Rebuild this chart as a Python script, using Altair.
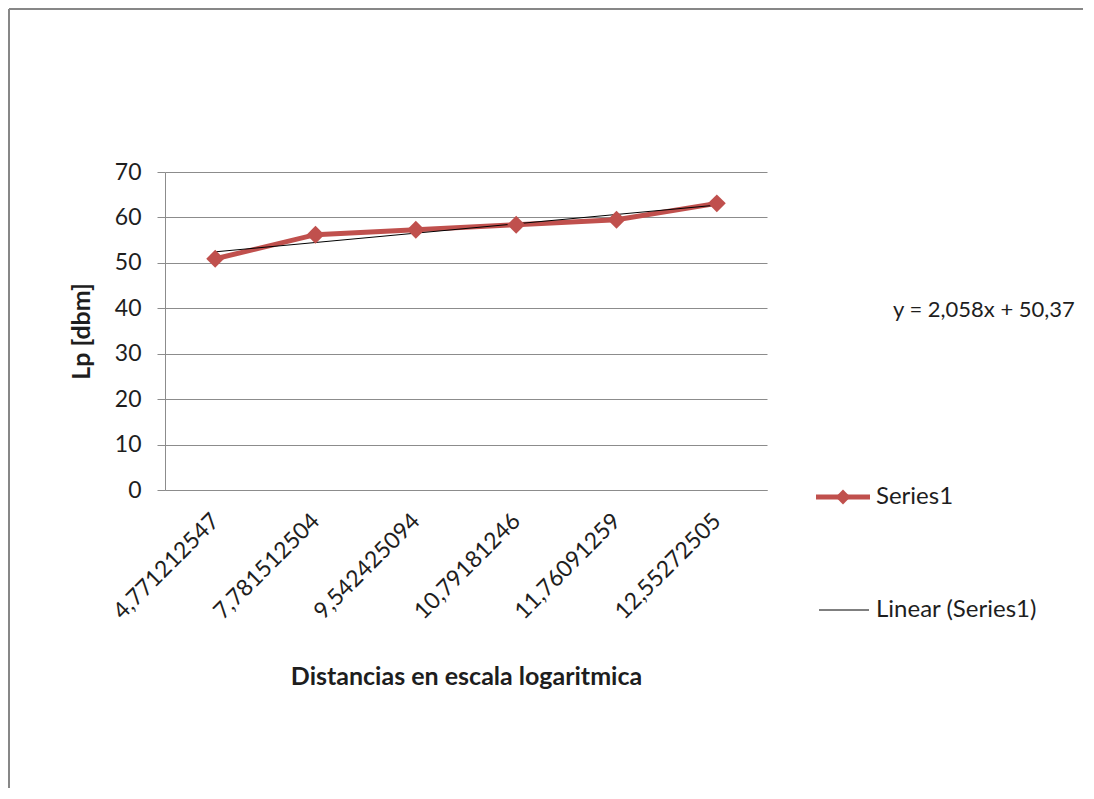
import altair as alt
import pandas as pd

categories = ["4,771212547", "7,781512504", "9,542425094", "10,79181246", "11,76091259", "12,55272505"]
lp_values = [50.9, 56.2, 57.3, 58.4, 59.5, 63.1]
y_ticks = [0, 10, 20, 30, 40, 50, 60, 70]
equation = "y = 2,058x + 50,37"
legend_labels = ["Series1", "Linear (Series1)"]

RED = "#C0504D"
GRID = "#8C8C8C"
TXT = "#1E1E1E"
FONT = "Lato"
LBL = 23
TTL = 25

df = pd.DataFrame({"idx": list(range(1, len(categories) + 1)), "cat": categories, "lp": lp_values})

label_expr = "[" + ",".join(f"'{c}'" for c in categories) + "][datum.value - 1]"

x_enc = alt.X(
    "idx:Q",
    scale=alt.Scale(domain=[0.5, len(categories) + 0.5], nice=False, zero=False),
    axis=alt.Axis(
        values=list(range(1, len(categories) + 1)),
        labelExpr=label_expr,
        labelAngle=-45,
        labelAlign="right",
        labelBaseline="middle",
        labelPadding=27,
        labelOverlap=False,
        ticks=False,
        grid=False,
        domain=True,
        domainColor=GRID,
        labelFont=FONT,
        labelFontSize=LBL,
        labelColor=TXT,
        title="Distancias en escala logaritmica",
        titleFont=FONT,
        titleFontSize=TTL,
        titleFontWeight="bold",
        titleColor=TXT,
        titleBaseline="middle",
        titleY=186,
        titleX=301,
    ),
)
y_enc = alt.Y(
    "lp:Q",
    scale=alt.Scale(domain=[0, 70], nice=False),
    axis=alt.Axis(
        values=y_ticks,
        grid=True,
        gridColor=GRID,
        gridWidth=1,
        domainColor=GRID,
        tickColor=GRID,
        tickSize=8,
        labelPadding=16,
        labelFont=FONT,
        labelFontSize=LBL,
        labelColor=TXT,
        title="Lp [dbm]",
        titleFont=FONT,
        titleFontSize=TTL,
        titleFontWeight="bold",
        titleColor=TXT,
        titleX=-84,
        titleY=159,
        titleAngle=-90,
        titleBaseline="middle",
    ),
)

base = alt.Chart(df)

series_line = base.mark_line(color=RED, strokeWidth=5).encode(x=x_enc, y=y_enc)
series_pts = base.mark_point(shape="diamond", filled=True, color=RED, opacity=1, size=320).encode(x="idx:Q", y="lp:Q")
trend = base.transform_regression("idx", "lp", method="linear", extent=[1, len(categories)]).mark_line(
    color="black", strokeWidth=1
).encode(x="idx:Q", y="lp:Q")

one = pd.DataFrame({"k": [0]})
frame_left = alt.Chart(one).mark_rule(color="#878787", strokeWidth=2).encode(
    x=alt.value(-156), y=alt.value(-163), y2=alt.value(700)
)
frame_top = alt.Chart(one).mark_rule(color="#878787", strokeWidth=2).encode(
    x=alt.value(-156), x2=alt.value(1000), y=alt.value(-163)
)
eq_text = alt.Chart(one).mark_text(
    text=equation, align="left", baseline="middle", font=FONT, fontSize=22, color=TXT
).encode(x=alt.value(728), y=alt.value(138))

leg1_line = alt.Chart(one).mark_rule(color=RED, strokeWidth=5).encode(
    x=alt.value(651), x2=alt.value(705), y=alt.value(325)
)
leg1_pt = alt.Chart(one).mark_point(shape="diamond", filled=True, color=RED, opacity=1, size=220).encode(
    x=alt.value(678), y=alt.value(325)
)
leg1_txt = alt.Chart(one).mark_text(
    text=legend_labels[0], align="left", baseline="middle", font=FONT, fontSize=24, color=TXT
).encode(x=alt.value(711), y=alt.value(325))
leg2_line = alt.Chart(one).mark_rule(color="black", strokeWidth=1).encode(
    x=alt.value(654), x2=alt.value(704), y=alt.value(438)
)
leg2_txt = alt.Chart(one).mark_text(
    text=legend_labels[1], align="left", baseline="middle", font=FONT, fontSize=24, color=TXT
).encode(x=alt.value(711), y=alt.value(438))

chart = alt.layer(
    frame_left, frame_top, series_line, trend, series_pts, eq_text,
    leg1_line, leg1_pt, leg1_txt, leg2_line, leg2_txt
).properties(
    width=602,
    height=318,
    autosize=alt.AutoSizeParams(type="none"),
    padding={"left": 157, "top": 164, "right": 316, "bottom": 298},
    background="white",
).configure_view(stroke=None)

chart.save("out.html", embed_options={"renderer": "svg", "actions": False})
